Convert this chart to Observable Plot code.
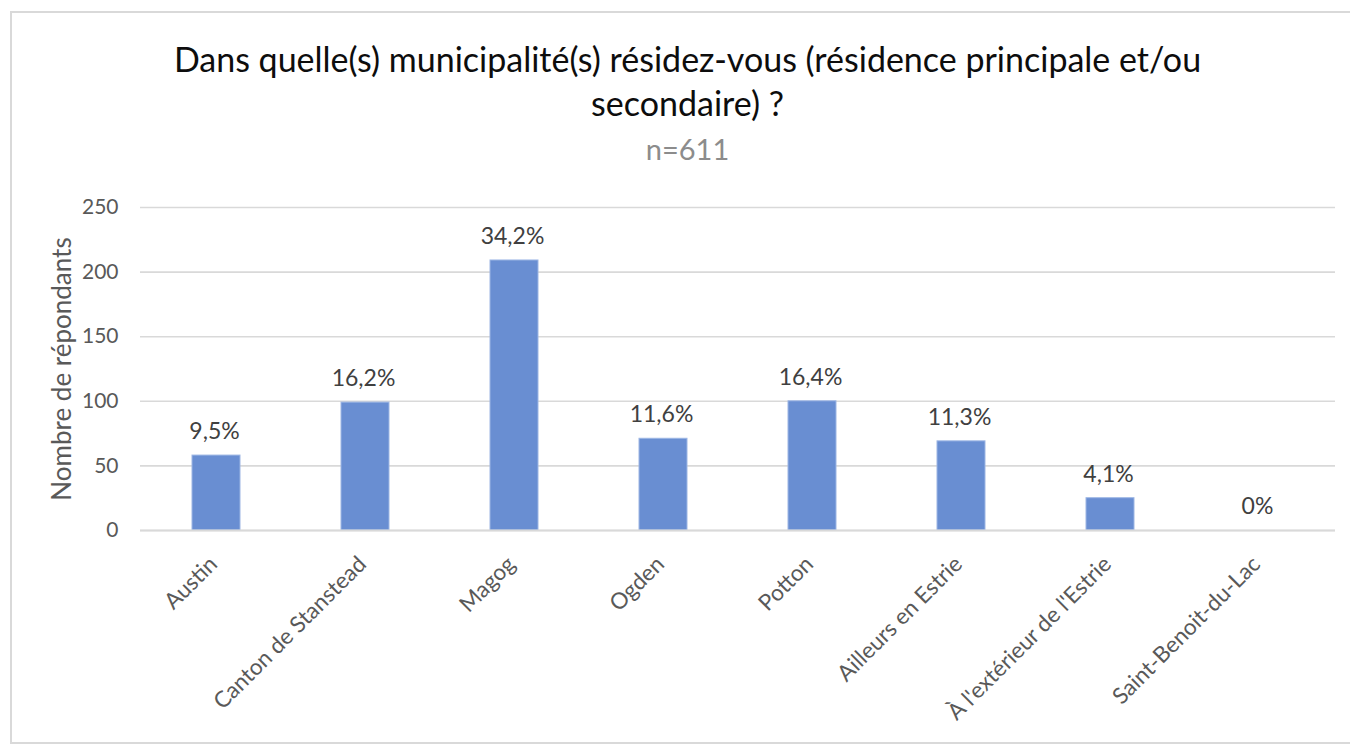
<!DOCTYPE html>
<html>
<head>
<meta charset="utf-8">
<script src="https://cdn.jsdelivr.net/npm/d3@7"></script>
<script src="https://cdn.jsdelivr.net/npm/@observablehq/plot@0.6"></script>
<style>
  html, body { margin: 0; padding: 0; background: #fff; }
  #wrap { position: relative; width: 1350px; height: 748px; overflow: hidden; font-family: Lato, "Open Sans", sans-serif; }
  #frame { position: absolute; left: 10px; top: 11px; width: 1360px; height: 733px; border: 2px solid #d9d9d9; box-sizing: border-box; }
  #title { position: absolute; left: 0; width: 1375px; top: 37px; text-align: center; font-size: 34px; line-height: 44px; color: #0d0d0d; }
  #sub { position: absolute; left: 0; width: 1375px; top: 131px; text-align: center; font-size: 29px; color: #8c8c8c; }
  #chart { position: absolute; left: 0; top: 180px; }
</style>
</head>
<body>
<div id="wrap">
  <div id="frame"></div>
  <div id="title">Dans quelle(s) municipalité(s) résidez-vous (résidence principale et/ou<br>secondaire) ?</div>
  <div id="sub">n=611</div>
  <div id="chart"></div>
</div>
<script>
const categories = ["Austin", "Canton de Stanstead", "Magog", "Ogden", "Potton", "Ailleurs en Estrie", "À l'extérieur de l'Estrie", "Saint-Benoit-du-Lac"];
const counts = [58, 99, 209, 71, 100, 69, 25, 0];
const percentLabels = ["9,5%", "16,2%", "34,2%", "11,6%", "16,4%", "11,3%", "4,1%", "0%"];
const yTicks = [0, 50, 100, 150, 200, 250];

const data = categories.map((c, i) => ({category: c, count: counts[i], label: percentLabels[i]}));

const chart = Plot.plot({
  width: 1350,
  height: 568,
  marginLeft: 140,
  marginRight: 15,
  marginTop: 27,
  marginBottom: 218,
  style: { fontFamily: "Lato, 'Open Sans', sans-serif", fontSize: "22px", color: "#595959", background: "transparent", overflow: "visible" },
  x: { domain: categories, paddingInner: 0.68, paddingOuter: 0.34, label: null },
  y: { domain: [0, 250], label: null },
  marks: [
    Plot.gridY(yTicks, { stroke: "#d9d9d9", strokeOpacity: 1, strokeWidth: 1.6 }),
    Plot.barY(data, { x: "category", y: "count", fill: "#698ed2", stroke: "#9db6e4", strokeWidth: 1 }),
    Plot.ruleY([0], { stroke: "#d9d9d9", strokeWidth: 2 }),
    Plot.text(data, { x: "category", y: "count", text: "label", dy: -24, dx: -2, fill: "#404040", fontSize: 23 }),
    Plot.axisY({ ticks: yTicks, tickSize: 0, tickPadding: 22, fontSize: 21, fill: "#595959", label: null }),
    Plot.axisX({ tickSize: 0, tickRotate: -45, tickPadding: 30, fontSize: 22.5, fill: "#595959", label: null, dx: -3 }),
    Plot.text(["Nombre de répondants"], { frameAnchor: "left", textAnchor: "middle", dx: -78, rotate: -90, fontSize: 26, fill: "#595959" })
  ]
});
document.getElementById("chart").appendChild(chart);
</script>
</body>
</html>
